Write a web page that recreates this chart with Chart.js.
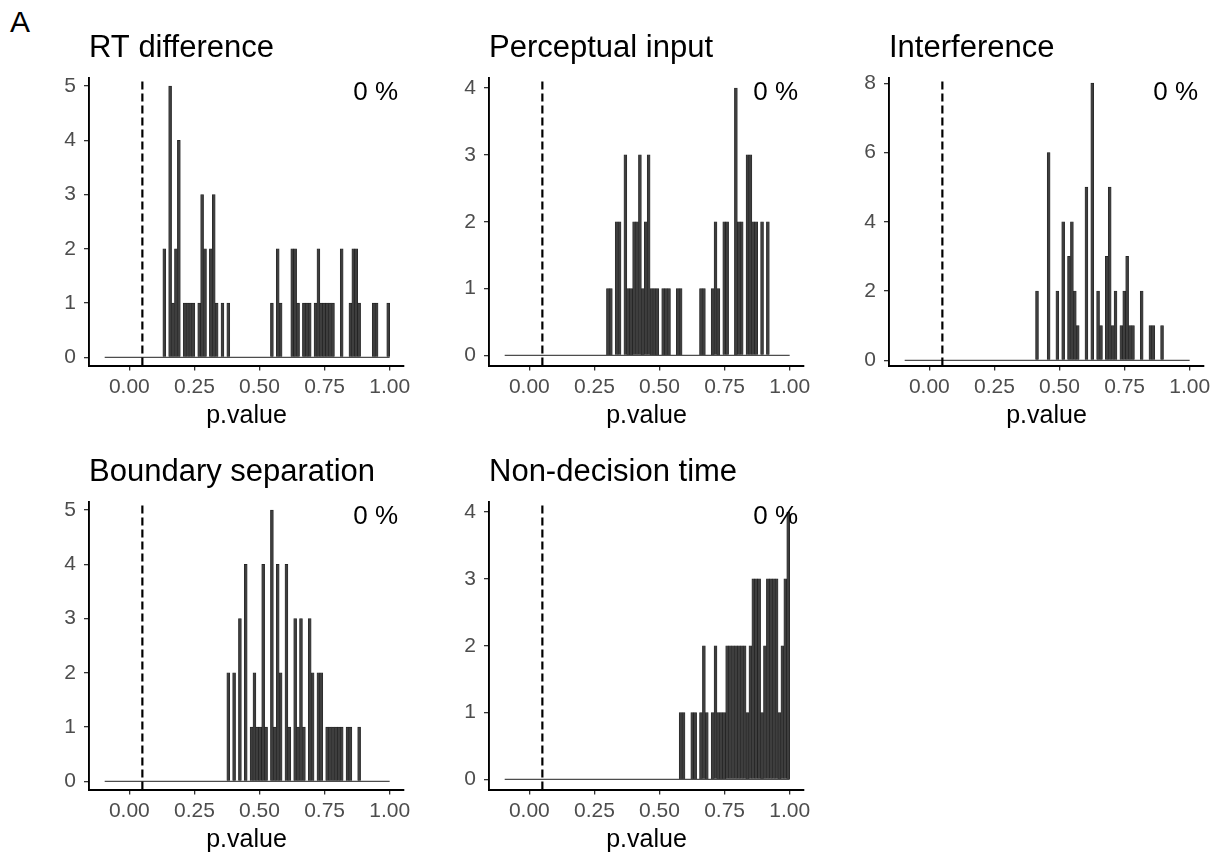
<!DOCTYPE html>
<html>
<head>
<meta charset="utf-8">
<title>p.value histograms</title>
<script src="https://cdn.jsdelivr.net/npm/chart.js@4.4.1/dist/chart.umd.min.js"></script>
<style>
  html, body { margin: 0; padding: 0; background: #fff; }
  body { width: 1225px; height: 858px; position: relative; overflow: hidden; font-family: 'Liberation Sans', Arial, sans-serif; }
  .tag { position: absolute; left: 10px; top: 7px; font-size: 30px; line-height: 30px; color: #000; }
  .panel { position: absolute; width: 375px; height: 411px; }
</style>
</head>
<body>
<div class="tag">A</div>
<div class="panel" style="left:44px;top:20px"><canvas id="p1"></canvas></div>
<div class="panel" style="left:444px;top:20px"><canvas id="p2"></canvas></div>
<div class="panel" style="left:844px;top:20px"><canvas id="p3"></canvas></div>
<div class="panel" style="left:44px;top:444px"><canvas id="p4"></canvas></div>
<div class="panel" style="left:444px;top:444px"><canvas id="p5"></canvas></div>

<script>
// Histogram bins: 98 equal bins, first starts at -0.0947, last ends at 1.00
const BIN_START = -0.0947;
const BIN_WIDTH = 0.01117;
const N_BINS = 98;
const X_TICKS = [0, 0.25, 0.5, 0.75, 1];
const ALPHA = 0.05; // dashed reference line

const panelTitles = ['RT difference', 'Perceptual input', 'Interference', 'Boundary separation', 'Non-decision time'];
const sigLabels = ['0 %', '0 %', '0 %', '0 %', '0 %'];

// counts per bin (10 bins per row)
const rtCounts = [
    0,0,0,0,0,0,0,0,0,0,
    0,0,0,0,0,0,0,0,0,0,
    2,0,5,1,2,4,0,1,1,1,
    1,0,1,3,2,0,2,3,1,0,
    1,0,1,0,0,0,0,0,0,0,
    0,0,0,0,0,0,0,1,0,2,
    1,0,0,0,2,2,1,0,1,1,
    1,0,1,2,1,1,1,1,1,0,
    0,2,0,0,1,2,2,1,0,0,
    0,0,1,1,0,0,0,1
];
const perceptualCounts = [
    0,0,0,0,0,0,0,0,0,0,
    0,0,0,0,0,0,0,0,0,0,
    0,0,0,0,0,0,0,0,0,0,
    0,0,0,0,0,1,1,0,2,2,
    0,3,1,1,2,2,3,1,2,3,
    1,1,1,0,1,1,1,0,0,1,
    1,0,0,0,0,0,0,1,1,0,
    0,1,2,1,0,2,2,0,0,4,
    2,2,0,3,3,2,2,0,2,0,
    2,0,0,0,0,0,0,0
];
const interferenceCounts = [
    0,0,0,0,0,0,0,0,0,0,
    0,0,0,0,0,0,0,0,0,0,
    0,0,0,0,0,0,0,0,0,0,
    0,0,0,0,0,0,0,0,0,0,
    0,0,0,0,0,2,0,0,0,6,
    0,0,2,0,4,0,3,4,2,1,
    0,0,5,0,8,0,2,1,0,3,
    5,1,2,0,1,2,3,1,1,0,
    0,2,0,0,1,1,0,0,1,0,
    0,0,0,0,0,0,0,0
];
const boundaryCounts = [
    0,0,0,0,0,0,0,0,0,0,
    0,0,0,0,0,0,0,0,0,0,
    0,0,0,0,0,0,0,0,0,0,
    0,0,0,0,0,0,0,0,0,0,
    0,0,2,0,2,0,3,0,4,0,
    1,2,1,1,4,1,0,5,1,4,
    2,0,4,1,0,3,1,3,1,0,
    3,2,0,2,2,0,1,1,1,1,
    1,1,0,1,1,0,0,1,0,0,
    0,0,0,0,0,0,0,0
];
const nondecisionCounts = [
    0,0,0,0,0,0,0,0,0,0,
    0,0,0,0,0,0,0,0,0,0,
    0,0,0,0,0,0,0,0,0,0,
    0,0,0,0,0,0,0,0,0,0,
    0,0,0,0,0,0,0,0,0,0,
    0,0,0,0,0,0,0,0,0,0,
    1,1,0,0,1,1,0,1,2,1,
    0,1,2,1,1,1,2,2,2,2,
    2,2,2,1,2,3,3,3,1,2,
    3,3,3,3,1,2,3,4
];

// y tick labels per panel
const rtTicks = [0, 1, 2, 3, 4, 5];
const perceptualTicks = [0, 1, 2, 3, 4];
const interferenceTicks = [0, 2, 4, 6, 8];
const boundaryTicks = [0, 1, 2, 3, 4, 5];
const nondecisionTicks = [0, 1, 2, 3, 4];

const binCenters = [];
for (let i = 0; i < N_BINS; i++) binCenters.push(BIN_START + (i + 0.5) * BIN_WIDTH);

Chart.defaults.font.family = "'Liberation Sans', Arial, sans-serif";

// "0 %" label in the top right corner of the panel
const cornerText = {
    id: 'cornerText',
    afterDatasetsDraw(chart, args, opts) {
        const { ctx, chartArea } = chart;
        ctx.save();
        ctx.font = "26px 'Liberation Sans', Arial, sans-serif";
        ctx.fillStyle = '#000';
        ctx.textAlign = 'right';
        ctx.textBaseline = 'middle';
        ctx.fillText(opts.text, chartArea.right - 6, chartArea.top + 15);
        ctx.restore();
    }
};

function makePanel(id, title, label, counts, yTicks) {
    const ymax = yTicks[yTicks.length - 1];
    const bars = binCenters.map((x, i) => ({ x: x, y: counts[i] }));

    new Chart(document.getElementById(id), {
        type: 'bar',
        data: {
            datasets: [
                {
                    type: 'line',
                    data: [{ x: ALPHA, y: -0.15 }, { x: ALPHA, y: ymax + 0.15 }],
                    borderColor: '#000',
                    borderWidth: 2.2,
                    borderDash: [8, 4],
                    pointRadius: 0,
                    order: 0
                },
                {
                    type: 'line',
                    data: [{ x: BIN_START, y: 0 }, { x: BIN_START + N_BINS * BIN_WIDTH, y: 0 }],
                    borderColor: '#4d4d4d',
                    borderWidth: 1.2,
                    pointRadius: 0,
                    order: 1
                },
                {
                    data: bars,
                    backgroundColor: '#3e3e3e',
                    borderColor: '#1e1e1e',
                    borderWidth: 0.6,
                    barPercentage: 1,
                    categoryPercentage: 1,
                    order: 2
                }
            ]
        },
        options: {
            responsive: true,
            maintainAspectRatio: false,
            animation: false,
            events: [],
            layout: { padding: { left: 0, top: 0, right: 15, bottom: 0 } },
            scales: {
                x: {
                    type: 'linear',
                    min: -0.155,
                    max: 1.055,
                    offset: false,
                    afterBuildTicks: s => { s.ticks = X_TICKS.map(v => ({ value: v })); },
                    afterFit: s => { s.height = 65.5; },
                    grid: { display: true, drawOnChartArea: false, drawTicks: true, tickLength: 5, offset: false, color: '#333', lineWidth: 1.3 },
                    border: { display: true, color: '#000', width: 1.9 },
                    ticks: { color: '#4d4d4d', font: { size: 21 }, padding: 4, maxRotation: 0, autoSkip: false, callback: v => v.toFixed(2) },
                    title: { display: true, text: 'p.value', color: '#000', font: { size: 25 }, padding: 0 }
                },
                y: {
                    type: 'linear',
                    min: -0.15,
                    max: ymax + 0.15,
                    afterBuildTicks: s => { s.ticks = yTicks.map(v => ({ value: v })); },
                    afterFit: s => { s.width = 45; },
                    grid: { display: true, drawOnChartArea: false, drawTicks: true, tickLength: 5, color: '#333', lineWidth: 1.3 },
                    border: { display: true, color: '#000', width: 1.9 },
                    ticks: { color: '#4d4d4d', font: { size: 21 }, padding: 8 }
                }
            },
            plugins: {
                legend: { display: false },
                tooltip: { enabled: false },
                title: {
                    display: true,
                    text: title,
                    align: 'start',
                    fullSize: false,
                    color: '#000',
                    font: { size: 31, weight: 'normal' },
                    padding: { top: 10.3, bottom: 10.5 }
                },
                cornerText: { text: label }
            }
        },
        plugins: [cornerText]
    });
}

makePanel('p1', panelTitles[0], sigLabels[0], rtCounts, rtTicks);
makePanel('p2', panelTitles[1], sigLabels[1], perceptualCounts, perceptualTicks);
makePanel('p3', panelTitles[2], sigLabels[2], interferenceCounts, interferenceTicks);
makePanel('p4', panelTitles[3], sigLabels[3], boundaryCounts, boundaryTicks);
makePanel('p5', panelTitles[4], sigLabels[4], nondecisionCounts, nondecisionTicks);
</script>
</body>
</html>
